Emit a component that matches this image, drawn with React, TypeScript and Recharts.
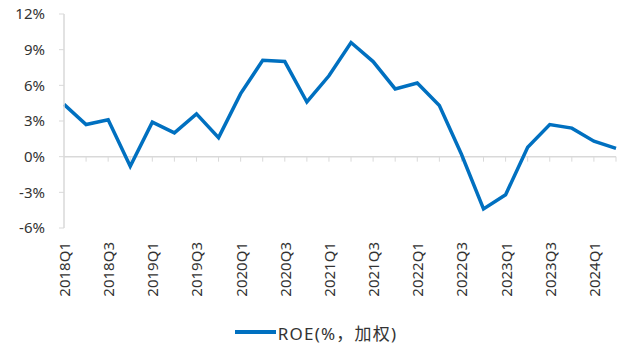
import { Legend, Line, LineChart, ReferenceLine, XAxis, YAxis } from "recharts"

const quarters = [
  "2018Q1", "2018Q2", "2018Q3", "2018Q4",
  "2019Q1", "2019Q2", "2019Q3", "2019Q4",
  "2020Q1", "2020Q2", "2020Q3", "2020Q4",
  "2021Q1", "2021Q2", "2021Q3", "2021Q4",
  "2022Q1", "2022Q2", "2022Q3", "2022Q4",
  "2023Q1", "2023Q2", "2023Q3", "2023Q4",
  "2024Q1", "2024Q2",
]

const roe = [
  4.4, 2.7, 3.1, -0.8,
  2.9, 2.0, 3.6, 1.6,
  5.3, 8.1, 8.0, 4.6,
  6.8, 9.6, 8.0, 5.7,
  6.2, 4.3, 0.2, -4.4,
  -3.2, 0.8, 2.7, 2.4,
  1.3, 0.7,
]

const yTicks = [-6, -3, 0, 3, 6, 9, 12]

const seriesName = "ROE(%，加权)"

const data = quarters.map((q, i) => ({ quarter: q, roe: roe[i] }))

const FONT = '"Noto Sans", "Noto Sans CJK SC", sans-serif'
const BLUE = "#0070C0"
const GRAY = "#d9d9d9"

function QuarterTick(props: any) {
  const { x, y, payload } = props
  return (
    <text
      x={x}
      y={y}
      transform={`rotate(-90, ${x}, ${y})`}
      textAnchor="end"
      dominantBaseline="central"
      fontSize={15}
      fontFamily={FONT}
      fill="#333"
    >
      {payload.value}
    </text>
  )
}

function RoeLegend() {
  return (
    <div
      style={{
        height: 24,
        display: "flex",
        alignItems: "center",
        justifyContent: "center",
        fontFamily: FONT,
        fontSize: 17,
        letterSpacing: 1.2,
        color: "#333",
        paddingLeft: 16,
      }}
    >
      <span style={{ display: "inline-block", width: 41, height: 4, background: BLUE, marginRight: 2 }} />
      <span>{seriesName}</span>
    </div>
  )
}

export default function App() {
  return (
    <div style={{ position: "absolute", left: 0, top: 0 }}>
      <LineChart width={624} height={344} data={data} margin={{ top: 14, right: 8, left: 0, bottom: 0 }}>
        <XAxis
          dataKey="quarter"
          interval={1}
          axisLine={false}
          tickLine={false}
          tickSize={0}
          tickMargin={14}
          height={92}
          tick={<QuarterTick />}
        />
        <YAxis
          domain={[-6, 12]}
          ticks={yTicks}
          width={64}
          tickFormatter={(v: number) => `${v}%`}
          axisLine={{ stroke: GRAY, strokeWidth: 1.5 }}
          tickLine={{ stroke: GRAY }}
          tickSize={5}
          tickMargin={14}
          tick={{ fontSize: 15, fontFamily: FONT, fill: "#333" }}
        />
        <ReferenceLine y={0} stroke={GRAY} strokeWidth={1.5} />
        {quarters.slice(1).map((q) => (
          <ReferenceLine
            key={q}
            segment={[{ x: q, y: 0 }, { x: q, y: -0.42 }]}
            stroke={GRAY}
            strokeWidth={1}
          />
        ))}
        <Line
          dataKey="roe"
          name={seriesName}
          type="linear"
          stroke={BLUE}
          strokeWidth={3.5}
          dot={false}
          isAnimationActive={false}
        />
        <Legend verticalAlign="bottom" content={<RoeLegend />} />
      </LineChart>
    </div>
  )
}
